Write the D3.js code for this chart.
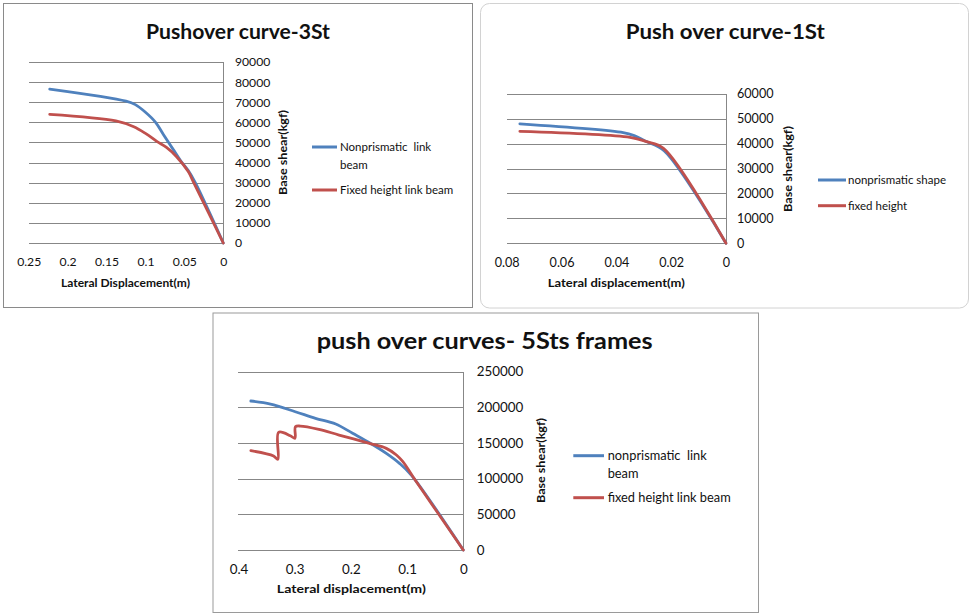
<!DOCTYPE html>
<html>
<head>
<meta charset="utf-8">
<script src="https://cdn.jsdelivr.net/npm/d3@7"></script>
<style>
  html, body { margin: 0; padding: 0; background: #ffffff; }
  svg { display: block; }
  text { font-family: Lato, "Open Sans", "Liberation Sans", sans-serif; fill: #111; }
</style>
</head>
<body>
<svg id="chart" width="970" height="614"></svg>
<script>
// ---------------- DATA ----------------
// Panel 1: Pushover curve-3St
const titles = ["Pushover curve-3St", "Push over curve-1St", "push over curves- 5Sts frames"];
const xAxisTitles = ["Lateral Displacement(m)", "Lateral  displacement(m)", "Lateral displacement(m)"];
const yAxisTitle = "Base shear(kgf)";

const xTicks3St = [0.25, 0.2, 0.15, 0.1, 0.05, 0];
const xTickLabels3St = ["0.25", "0.2", "0.15", "0.1", "0.05", "0"];
const yTicks3St = [0, 10000, 20000, 30000, 40000, 50000, 60000, 70000, 80000, 90000];
const legend3St = [["Nonprismatic  link", "beam"], ["Fixed height link beam"]];
const disp3StNonpris = [0, 0.036, 0.045, 0.055, 0.064, 0.077, 0.087, 0.1, 0.113, 0.125, 0.223];
const shear3StNonpris = [0, 30000, 36000, 41000, 46300, 54000, 60000, 65000, 68800, 70500, 76500];
const disp3StFixed = [0, 0.038, 0.045, 0.06, 0.073, 0.085, 0.1, 0.115, 0.138, 0.223];
const shear3StFixed = [0, 30000, 35500, 42900, 47500, 50400, 54500, 57800, 60700, 64000];

// Panel 2: Push over curve-1St
const xTicks1St = [0.08, 0.06, 0.04, 0.02, 0];
const xTickLabels1St = ["0.08", "0.06", "0.04", "0.02", "0"];
const yTicks1St = [0, 10000, 20000, 30000, 40000, 50000, 60000];
const legend1St = [["nonprismatic shape"], ["fixed height"]];
const disp1StNonpris = [0, 0.0225, 0.029, 0.0335, 0.0375, 0.0752];
const shear1StNonpris = [0, 37000, 40800, 43200, 44400, 47900];
const disp1StFixed = [0, 0.0228, 0.029, 0.035, 0.0752];
const shear1StFixed = [0, 38100, 40800, 42500, 44900];

// Panel 3: push over curves- 5Sts frames
const xTicks5St = [0.4, 0.3, 0.2, 0.1, 0];
const xTickLabels5St = ["0.4", "0.3", "0.2", "0.1", "0"];
const yTicks5St = [0, 50000, 100000, 150000, 200000, 250000];
const legend5St = [["nonprismatic  link", "beam"], ["fixed height link beam"]];
const disp5StNonpris = [0, 0.0925, 0.1135, 0.137, 0.167, 0.197, 0.227, 0.263, 0.299, 0.343, 0.378];
const shear5StNonpris = [0, 105000, 121500, 135500, 150400, 163600, 176600, 184600, 193900, 204600, 208900];
const disp5StFixed = [0, 0.0896, 0.1075, 0.119, 0.137, 0.167, 0.221, 0.257, 0.29, 0.2987, 0.2995, 0.3077, 0.3286, 0.330, 0.3376, 0.378];
const shear5StFixed = [0, 102800, 123800, 133200, 142500, 149500, 161200, 169200, 173800, 172800, 156600, 160200, 165000, 127100, 131800, 139200];

const seriesColors = ["#4F81BD", "#C0504D"];

// ---------------- LAYOUT ----------------
const svg = d3.select("#chart");

const panels = [
  {
    border: {x: 3.5, y: 3.5, w: 469, h: 304, rx: 0, stroke: "#8a8a8a"},
    plot: {left: 28.7, right: 223.3, top: 62, bottom: 243},
    xMax: 0.25, yMax: 90000,
    xTicks: xTicks3St, xLabels: xTickLabels3St, yTicks: yTicks3St,
    tickFont: 12.2, yLabelX: 235, xLabelY: 262,
    title: titles[0], titleX: 238, titleY: 31, titleLen: 184, titleFont: 21,
    yTitleX: 283, yTitleY: 152.5, yTitleLen: 85, axisTitleFont: 11.5,
    xTitle: xAxisTitles[0], xTitleX: 125.5, xTitleY: 283, xTitleLen: 129,
    legend: legend3St, legX1: 312, legX2: 337, legText: 340, legYs: [147, 190], legLineGap: 18, legFont: 11.5,
    series: [[disp3StNonpris, shear3StNonpris], [disp3StFixed, shear3StFixed]]
  },
  {
    border: {x: 480.5, y: 3.5, w: 488, h: 304.5, rx: 9, stroke: "#d2d2d2"},
    plot: {left: 506.7, right: 726, top: 93.7, bottom: 243.3},
    xMax: 0.08, yMax: 60000,
    xTicks: xTicks1St, xLabels: xTickLabels1St, yTicks: yTicks1St,
    tickFont: 12.6, yLabelX: 737, xLabelY: 262.3,
    title: titles[1], titleX: 725.3, titleY: 31, titleLen: 199, titleFont: 21,
    yTitleX: 788.3, yTitleY: 169, yTitleLen: 86, axisTitleFont: 11.5,
    xTitle: xAxisTitles[1], xTitleX: 616.3, xTitleY: 283, xTitleLen: 137,
    legend: legend1St, legX1: 818, legX2: 846, legText: 848, legYs: [180, 205.7], legLineGap: 18, legFont: 11.5,
    series: [[disp1StNonpris, shear1StNonpris], [disp1StFixed, shear1StFixed]]
  },
  {
    border: {x: 213, y: 313, w: 545.5, h: 299.5, rx: 0, stroke: "#9a9a9a"},
    plot: {left: 238.5, right: 463.3, top: 371.7, bottom: 550},
    xMax: 0.4, yMax: 250000,
    xTicks: xTicks5St, xLabels: xTickLabels5St, yTicks: yTicks5St,
    tickFont: 13.4, yLabelX: 476.7, xLabelY: 569,
    title: titles[2], titleX: 484.7, titleY: 341, titleLen: 336, titleFont: 22,
    yTitleX: 541, yTitleY: 460.5, yTitleLen: 85, axisTitleFont: 12,
    xTitle: xAxisTitles[2], xTitleX: 351.3, xTitleY: 588.3, xTitleLen: 149,
    legend: legend5St, legX1: 573.3, legX2: 604, legText: 607.7, legYs: [455.7, 497.7], legLineGap: 17.6, legFont: 12.8,
    series: [[disp5StNonpris, shear5StNonpris], [disp5StFixed, shear5StFixed]]
  }
];

function drawPanel(p) {
  const g = svg.append("g");
  // chart area border
  g.append("rect")
    .attr("x", p.border.x).attr("y", p.border.y)
    .attr("width", p.border.w).attr("height", p.border.h)
    .attr("rx", p.border.rx).attr("ry", p.border.rx)
    .attr("fill", "#fff").attr("stroke", p.border.stroke).attr("stroke-width", 1);

  const x = d3.scaleLinear().domain([p.xMax, 0]).range([p.plot.left, p.plot.right]);
  const y = d3.scaleLinear().domain([0, p.yMax]).range([p.plot.bottom, p.plot.top]);
  const w = p.plot.right - p.plot.left;

  // horizontal gridlines
  const grid = g.append("g")
    .attr("transform", `translate(${p.plot.right},0)`)
    .call(d3.axisLeft(y).tickValues(p.yTicks).tickSize(w).tickFormat(""));
  grid.select(".domain").remove();
  grid.selectAll("line").attr("stroke", "#878787").attr("stroke-width", 1).attr("shape-rendering", "crispEdges");

  // vertical value axis line (right side)
  g.append("line")
    .attr("x1", p.plot.right).attr("x2", p.plot.right)
    .attr("y1", p.plot.top).attr("y2", p.plot.bottom)
    .attr("stroke", "#878787").attr("shape-rendering", "crispEdges");

  // y tick labels (right side, left-aligned)
  const yAx = g.append("g")
    .attr("transform", `translate(${p.plot.right},0)`)
    .call(d3.axisRight(y).tickValues(p.yTicks).tickSize(0).tickPadding(p.yLabelX - p.plot.right).tickFormat(d3.format("d")));
  yAx.select(".domain").remove();
  yAx.selectAll("text").attr("font-size", p.tickFont).attr("font-family", null).attr("fill", "#111");

  // x tick labels
  const xAx = g.append("g")
    .attr("transform", `translate(0,${p.plot.bottom})`)
    .call(d3.axisBottom(x).tickValues(p.xTicks).tickSize(0).tickFormat((d, i) => p.xLabels[i]));
  xAx.select(".domain").remove();
  xAx.selectAll("text").attr("y", p.xLabelY - p.plot.bottom).attr("dy", "0.36em")
    .attr("font-size", p.tickFont).attr("font-family", null).attr("fill", "#111");

  // series lines
  const lineGen = d3.line()
    .x(d => x(d[0])).y(d => y(d[1]))
    .curve(d3.curveCatmullRom.alpha(0.5));
  p.series.forEach((s, i) => {
    const pts = s[0].map((v, k) => [v, s[1][k]]);
    g.append("path").datum(pts)
      .attr("d", lineGen)
      .attr("fill", "none")
      .attr("stroke", seriesColors[i])
      .attr("stroke-width", 2.8)
      .attr("stroke-linejoin", "round")
      .attr("stroke-linecap", "round");
  });

  // title
  g.append("text")
    .attr("x", p.titleX).attr("y", p.titleY).attr("dy", "0.36em")
    .attr("text-anchor", "middle")
    .attr("font-size", p.titleFont).attr("font-weight", "bold").attr("fill", "#000")
    .attr("textLength", p.titleLen).attr("lengthAdjust", "spacingAndGlyphs")
    .text(p.title);

  // y axis title (rotated)
  g.append("text")
    .attr("transform", `translate(${p.yTitleX},${p.yTitleY}) rotate(-90)`)
    .attr("dy", "0.36em")
    .attr("text-anchor", "middle")
    .attr("font-size", p.axisTitleFont).attr("font-weight", "bold").attr("fill", "#000")
    .attr("textLength", p.yTitleLen).attr("lengthAdjust", "spacingAndGlyphs")
    .text(yAxisTitle);

  // x axis title
  g.append("text")
    .attr("x", p.xTitleX).attr("y", p.xTitleY).attr("dy", "0.36em")
    .attr("text-anchor", "middle")
    .attr("font-size", p.axisTitleFont).attr("font-weight", "bold").attr("fill", "#000")
    .attr("textLength", p.xTitleLen).attr("lengthAdjust", "spacingAndGlyphs")
    .text(p.xTitle);

  // legend
  p.legend.forEach((lines, i) => {
    const ly = p.legYs[i];
    g.append("line")
      .attr("x1", p.legX1).attr("x2", p.legX2).attr("y1", ly).attr("y2", ly)
      .attr("stroke", seriesColors[i]).attr("stroke-width", 3);
    lines.forEach((t, j) => {
      g.append("text")
        .attr("x", p.legText).attr("y", ly + j * p.legLineGap).attr("dy", "0.36em")
        .attr("font-size", p.legFont).attr("fill", "#111")
        .attr("xml:space", "preserve")
        .style("white-space", "pre")
        .text(t);
    });
  });
}

panels.forEach(drawPanel);
</script>
</body>
</html>
